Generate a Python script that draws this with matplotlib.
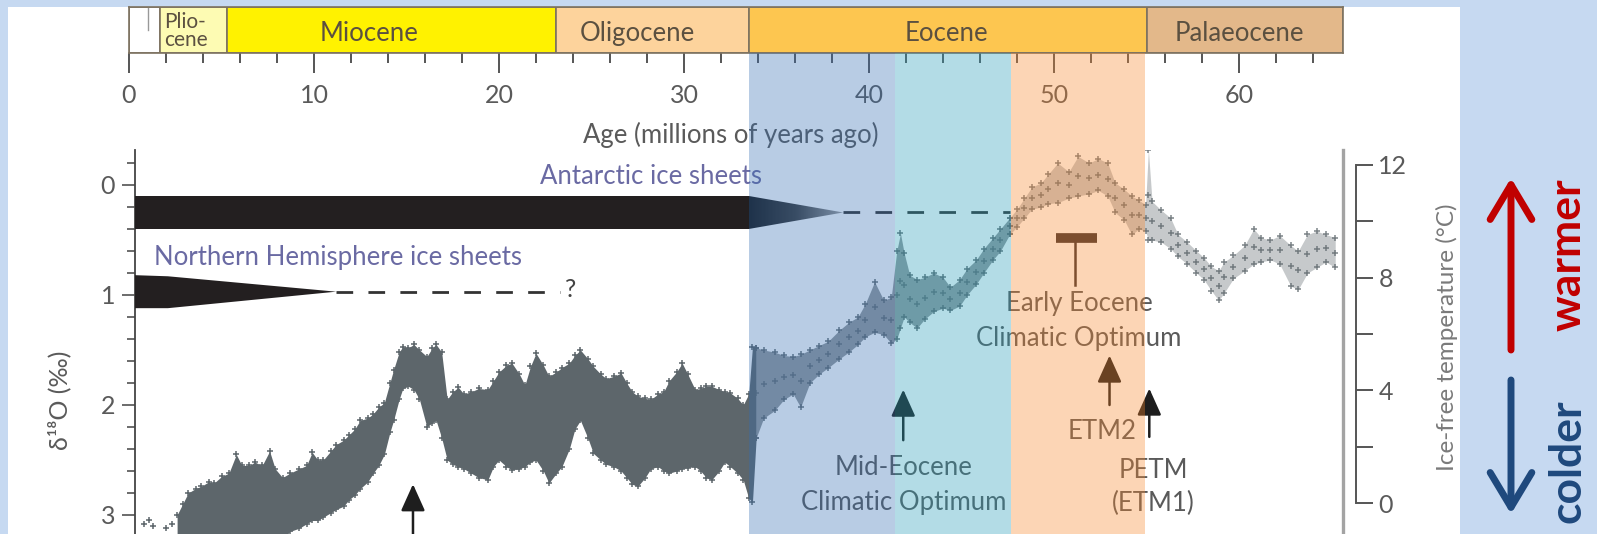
import numpy as np
import matplotlib
matplotlib.use('Agg')
import matplotlib.pyplot as plt
from matplotlib.patches import Rectangle, Polygon, FancyArrowPatch
from matplotlib.colors import LinearSegmentedColormap

plt.rcParams['font.family'] = ['Lato', 'DejaVu Sans']

# geological epochs (Ma)
epoch_names = ['', 'Plio-\ncene', 'Miocene', 'Oligocene', 'Eocene', 'Palaeocene']
epoch_start = [0.0, 1.7, 5.3, 23.1, 33.5, 55.0]
epoch_end = [1.7, 5.3, 23.1, 33.5, 55.0, 65.6]

# climate optima highlighted in the Eocene
band_start = [33.5, 41.4, 47.7]
band_end = [41.4, 47.7, 54.9]

# deep-sea benthic d18O record: upper / lower edge of the point cloud (permil)
age = np.array([
    2.6, 2.9, 3.2, 3.6, 3.9, 4.3, 4.6, 5.0, 5.4, 5.8, 6.1, 6.5, 6.8, 7.2, 7.6, 7.9,
    8.3, 8.7, 9.2, 9.6, 9.9, 10.2, 10.5, 10.9, 11.2, 11.6, 11.9, 12.2, 12.5, 12.9,
    13.2, 13.5, 13.8, 14.1, 14.3, 14.6, 14.8, 15.1, 15.4, 15.7, 16.1, 16.4, 16.6,
    16.9, 17.2, 17.5, 17.8, 18.1, 18.5, 18.9, 19.4, 19.7, 20.0, 20.4, 20.7, 21.1,
    21.4, 21.7, 22.0, 22.4, 22.7, 23.1, 23.4, 23.8, 24.1, 24.4, 24.8, 25.1, 25.5,
    25.8, 26.2, 26.6, 26.9, 27.2, 27.5, 27.9, 28.2, 28.6, 28.9, 29.2, 29.6, 29.9,
    30.2, 30.6, 30.9, 31.2, 31.5, 31.9, 32.2, 32.5, 32.9, 33.2, 33.5, 33.7, 33.9,
    34.3, 34.9, 35.4, 35.9, 36.3, 36.8, 37.3, 37.8, 38.4, 38.9, 39.4, 39.8, 40.3,
    40.8, 41.2, 41.5, 41.7, 41.9, 42.2, 42.6, 43.0, 43.5, 44.0, 44.4, 44.9, 45.3,
    45.8, 46.2, 46.7, 47.1, 47.6, 48.0, 48.4, 48.8, 49.3, 49.7, 50.2, 50.8, 51.3,
    51.9, 52.4, 52.9, 53.3, 53.8, 54.2, 54.6, 54.95, 55.1, 55.3, 55.8, 56.3, 56.7,
    57.2, 57.7, 58.1, 58.5, 58.9, 59.2, 59.7, 60.3, 60.8, 61.2, 61.7, 62.2, 62.8,
    63.2, 63.7, 64.2, 64.7, 65.2])
d18o_upper = np.array([
    3.00, 2.90, 2.80, 2.76, 2.74, 2.70, 2.71, 2.65, 2.62, 2.45, 2.55, 2.55, 2.52,
    2.55, 2.42, 2.58, 2.66, 2.62, 2.58, 2.55, 2.43, 2.50, 2.50, 2.42, 2.36, 2.32,
    2.27, 2.22, 2.14, 2.12, 2.08, 2.02, 1.98, 1.80, 1.68, 1.52, 1.47, 1.48, 1.45,
    1.50, 1.56, 1.48, 1.45, 1.52, 1.95, 1.88, 1.84, 1.90, 1.88, 1.85, 1.86, 1.78,
    1.70, 1.64, 1.62, 1.72, 1.82, 1.65, 1.53, 1.64, 1.74, 1.70, 1.66, 1.62, 1.55,
    1.50, 1.58, 1.65, 1.72, 1.76, 1.74, 1.71, 1.80, 1.88, 1.92, 1.94, 1.95, 1.90,
    1.88, 1.78, 1.70, 1.62, 1.72, 1.86, 1.85, 1.83, 1.83, 1.86, 1.88, 1.89, 1.94,
    2.00, 1.90, 1.47, 1.48, 1.50, 1.52, 1.55, 1.56, 1.54, 1.50, 1.46, 1.42, 1.32,
    1.25, 1.20, 1.08, 0.88, 1.05, 1.02, 0.60, 0.44, 0.62, 0.82, 0.86, 0.84, 0.80,
    0.84, 0.93, 0.86, 0.76, 0.68, 0.58, 0.48, 0.40, 0.30, 0.22, 0.12, 0.02, -0.02,
    -0.10, -0.20, -0.12, -0.26, -0.20, -0.24, -0.20, -0.02, 0.04, 0.10, 0.14, 0.18,
    -0.32, 0.15, 0.23, 0.30, 0.45, 0.52, 0.60, 0.66, 0.74, 0.78, 0.70, 0.64, 0.55,
    0.40, 0.48, 0.50, 0.46, 0.55, 0.60, 0.45, 0.42, 0.45, 0.48])
d18o_lower = np.array([
    3.25, 3.25, 3.25, 3.25, 3.25, 3.25, 3.25, 3.25, 3.25, 3.25, 3.25, 3.25, 3.25,
    3.25, 3.25, 3.25, 3.22, 3.15, 3.12, 3.08, 3.05, 3.05, 3.02, 2.98, 2.95, 2.92,
    2.86, 2.82, 2.76, 2.70, 2.62, 2.55, 2.45, 2.25, 2.14, 1.95, 1.85, 1.83, 1.86,
    1.95, 2.20, 2.16, 2.14, 2.30, 2.50, 2.54, 2.56, 2.58, 2.62, 2.66, 2.68, 2.56,
    2.50, 2.56, 2.59, 2.58, 2.56, 2.52, 2.50, 2.60, 2.71, 2.62, 2.56, 2.40, 2.22,
    2.14, 2.30, 2.44, 2.50, 2.54, 2.56, 2.60, 2.66, 2.72, 2.74, 2.66, 2.58, 2.56,
    2.60, 2.62, 2.60, 2.58, 2.57, 2.56, 2.60, 2.66, 2.68, 2.60, 2.52, 2.56, 2.62,
    2.68, 2.85, 2.88, 2.30, 2.12, 2.05, 1.95, 1.90, 2.02, 1.80, 1.72, 1.66, 1.58,
    1.52, 1.45, 1.38, 1.34, 1.36, 1.44, 1.40, 1.30, 1.20, 1.25, 1.30, 1.22, 1.15,
    1.12, 1.14, 1.10, 1.00, 0.90, 0.80, 0.68, 0.60, 0.45, 0.38, 0.30, 0.22, 0.20,
    0.17, 0.16, 0.12, 0.10, 0.08, 0.05, 0.10, 0.25, 0.32, 0.45, 0.40, 0.42, 0.50,
    0.50, 0.52, 0.58, 0.65, 0.72, 0.80, 0.86, 0.96, 1.05, 0.98, 0.85, 0.78, 0.72,
    0.70, 0.68, 0.72, 0.92, 0.95, 0.80, 0.75, 0.70, 0.75])

# isolated youngest samples
young_age = [0.8, 1.1, 1.3, 2.0, 2.3]
young_d18o = [3.08, 3.05, 3.10, 3.12, 3.08]

# events marked with arrows (age, arrow tip, arrow tail)
event_labels = ['', 'Mid-Eocene\nClimatic Optimum', 'ETM2', 'PETM\n(ETM1)']
event_age = [15.35, 41.85, 53.0, 55.15]
event_tip = [2.72, 1.86, 1.55, 1.85]
event_tail = [3.30, 2.32, 2.00, 2.29]

W, H = 1597, 534
fig = plt.figure(figsize=(W / 100, H / 100), dpi=100, facecolor='#c6d9f1')
fig.add_artist(Rectangle((8 / W, 0), 1452 / W, 527 / H, transform=fig.transFigure,
                         facecolor='white', edgecolor='none', zorder=-1))

txt = '#5a5a5a'

# ---- epoch bar with age axis ----
top = fig.add_axes([129 / W, 1 - 53 / H, 1214 / W, 46 / H])
top.set_facecolor('none')
epoch_colors = ['white', '#fdfbb3', '#fff200', '#fdd39c', '#fdc650', '#e3b88a']
for s, e, c in zip(epoch_start, epoch_end, epoch_colors):
    top.axvspan(s, e, color=c, ec='#7d7260', lw=1.2)
epoch_label_x = [None, 1.9, 12.95, 27.5, 44.2, 60.0]
for name, x in zip(epoch_names, epoch_label_x):
    if not name:
        continue
    if '\n' in name:
        top.text(x, 0.47, name, ha='left', va='center', fontsize=15,
                 color='#5b5040', linespacing=0.88)
    else:
        top.text(x, 0.43, name, ha='center', va='center', fontsize=18.5, color='#5b5040')
top.plot([1.05, 1.05], [0.5, 1.0], color='#999999', lw=1)
top.set_xlim(0, 65.62)
top.set_ylim(0, 1)
top.set_yticks([])
top.set_xticks(np.arange(0, 61, 10))
top.set_xticks(np.arange(0, 65, 2), minor=True)
top.tick_params(axis='x', which='major', length=14.4, width=1.4, color='#555555',
                labelsize=18, labelcolor=txt, pad=8)
top.tick_params(axis='x', which='minor', length=7.2, width=1.4, color='#555555')
for sp in top.spines.values():
    sp.set_color('#7d7260')
    sp.set_linewidth(1.2)
fig.text(731 / W, 1 - 135 / H, 'Age (millions of years ago)', ha='center', va='center',
         fontsize=18.5, color=txt)

# ---- d18O panel ----
ax = fig.add_axes([135 / W, 0, 1208 / W, 384 / H])
ax.set_facecolor('none')
ax.set_xlim(0.324, 65.62)
ax.set_ylim(3.173, -0.318)
ax.set_xticks([])
ax.set_yticks([0, 1, 2, 3])
ax.set_yticks(np.arange(-0.2, 3.2, 0.2), minor=True)
ax.tick_params(axis='y', which='major', length=9.4, width=1.1, color='#444444',
               labelsize=18, labelcolor=txt, pad=5)
ax.tick_params(axis='y', which='minor', length=5.8, width=1.1, color='#444444')
ax.spines['top'].set_visible(False)
ax.spines['bottom'].set_visible(False)
ax.spines['left'].set_color('#444444')
ax.spines['left'].set_linewidth(1.3)
ax.spines['right'].set_color('#a3a3a3')
ax.spines['right'].set_linewidth(2.4)

cloud = '#5d666b'
dense = age <= 33.9
mid = (age >= 33.9) & (age <= 47.6)
sparse = age >= 47.6
ax.fill_between(age[dense], d18o_upper[dense], d18o_lower[dense], color=cloud, lw=0, zorder=2)
for m, a in [(mid, 0.65), (sparse, 0.35)]:
    ax.fill_between(age[m], d18o_upper[m], d18o_lower[m], color=cloud, alpha=a, lw=0, zorder=2)
for m, a in [(dense, 1.0), (mid, 0.9), (sparse, 0.8)]:
    ax.plot(age[m], d18o_upper[m], ls='none', marker='+', ms=5, mew=1.1,
            color=cloud, alpha=a, zorder=2)
    ax.plot(age[m], d18o_lower[m], ls='none', marker='+', ms=5, mew=1.1,
            color=cloud, alpha=a, zorder=2)
for m in [mid, sparse]:
    ax.plot(age[m], (d18o_upper[m] + d18o_lower[m]) / 2, ls='none',
            marker='+', ms=5, mew=1.1, color=cloud, alpha=0.8, zorder=2)
ax.plot(young_age, young_d18o, ls='none', marker='+', ms=5, mew=1.1, color=cloud)

# Antarctic ice sheets: full bar, fading wedge, then dashed
ax.fill_between([0.324, 33.5], 0.10, 0.40, color='#231f20', lw=0, zorder=3)
wedge = Polygon([(33.5, 0.10), (38.6, 0.25), (33.5, 0.40)], closed=True,
                transform=ax.transData, fc='none', ec='none')
ax.add_patch(wedge)
fade = LinearSegmentedColormap.from_list('fade', ['#141414', '#3c3c3c', '#a5a5a5'])
im = ax.imshow(np.linspace(0, 1, 256)[None, :], extent=[33.5, 38.6, 0.40, 0.10],
               cmap=fade, aspect='auto', zorder=3)
im.set_clip_path(wedge)
ax.plot([38.6, 47.6], [0.25, 0.25], color='#333333', lw=2, ls=(0, (6, 5.5)), zorder=3)
ax.text(28.2, -0.08, 'Antarctic ice sheets', ha='center', va='center',
        fontsize=18.5, color='#6a6aa3')

# Northern Hemisphere ice sheets
ax.fill([0.324, 2.1, 11.2, 2.1, 0.324], [0.82, 0.83, 0.97, 1.12, 1.12],
        color='#231f20', lw=0, zorder=3)
ax.plot([11.2, 23.3], [0.97, 0.97], color='#333333', lw=2, ls=(0, (6, 5.5)), zorder=3)
ax.text(23.85, 0.95, '?', ha='center', va='center', fontsize=18, color='#444444')
ax.text(11.3, 0.655, 'Northern Hemisphere ice sheets', ha='center', va='center',
        fontsize=18.5, color='#6a6aa3')

# Early Eocene Climatic Optimum range
ax.plot([50.1, 52.3], [0.48, 0.48], color='#3a3030', lw=7, solid_capstyle='butt', zorder=3)
ax.plot([51.15, 51.15], [0.48, 0.91], color='#3a3030', lw=1.8, zorder=3)
ax.text(51.35, 1.24, 'Early Eocene\nClimatic Optimum', ha='center', va='center',
        fontsize=18.5, color=txt, linespacing=1.5)

for lab, x, tip, tail in zip(event_labels, event_age, event_tip, event_tail):
    ax.annotate('', xy=(x, tip), xytext=(x, tail), annotation_clip=False,
                arrowprops=dict(arrowstyle='-|>,head_length=1.0,head_width=0.45',
                                mutation_scale=16.5, lw=1.8, color='#1e1e1e',
                                shrinkA=0, shrinkB=0))
ax.text(41.85, 2.725, event_labels[1], ha='center', va='center', fontsize=18.5,
        color=txt, linespacing=1.5)
ax.text(52.6, 2.245, event_labels[2], ha='center', va='center', fontsize=18.5, color=txt)
ax.text(55.35, 2.745, event_labels[3], ha='center', va='center', fontsize=18.5,
        color=txt, linespacing=1.36)

fig.text(59 / W, 1 - 400 / H, 'δ¹⁸O (‰)', rotation=90, ha='center', va='center',
         fontsize=18, color=txt)

# ice-free temperature scale
tx = ax.twinx()
tx.set_ylim(-1.10, 12.53)
for k in ['left', 'top', 'bottom']:
    tx.spines[k].set_visible(False)
tx.spines['right'].set_position(('outward', 9.4))
tx.spines['right'].set_bounds(0, 12)
tx.spines['right'].set_color('#555555')
tx.spines['right'].set_linewidth(1.4)
tx.set_yticks([0, 4, 8, 12])
tx.set_yticks([2, 6, 10], minor=True)
tx.tick_params(axis='y', which='both', length=12, width=1.4, color='#555555',
               labelsize=18, labelcolor=txt, pad=4)
fig.text(1447 / W, 1 - 337 / H, 'Ice-free temperature (°C)', rotation=90,
         ha='center', va='center', fontsize=17.5, color='#7a7a7a')

# translucent bands over the Eocene optima
ov = fig.add_axes([129 / W, 0, 1214 / W, 481 / H])
ov.set_xlim(0, 65.62)
ov.set_ylim(0, 1)
ov.axis('off')
ov.set_zorder(10)
for s, e, c in zip(band_start, band_end, ['#346db2', '#269bb8', '#f9872c']):
    ov.axvspan(s, e, color=c, alpha=0.35, lw=0)

# warmer / colder key
fig.add_artist(FancyArrowPatch((1511 / W, 1 - 350 / H), (1511 / W, 1 - 178 / H),
                               transform=fig.transFigure, color='#c00000', lw=5,
                               arrowstyle='->,head_length=0.5,head_width=0.3',
                               mutation_scale=50, shrinkA=0, shrinkB=0))
fig.add_artist(FancyArrowPatch((1511 / W, 1 - 380 / H), (1511 / W, 1 - 514 / H),
                               transform=fig.transFigure, color='#1f497d', lw=5,
                               arrowstyle='->,head_length=0.5,head_width=0.3',
                               mutation_scale=50, shrinkA=0, shrinkB=0))
fig.text(1568 / W, 1 - 255 / H, 'warmer', rotation=90, ha='center', va='center',
         fontsize=32, fontweight='bold', color='#c00000')
fig.text(1567 / W, 1 - 461 / H, 'colder', rotation=90, ha='center', va='center',
         fontsize=32, fontweight='bold', color='#1f497d')

fig.savefig('out.png', dpi=100)
